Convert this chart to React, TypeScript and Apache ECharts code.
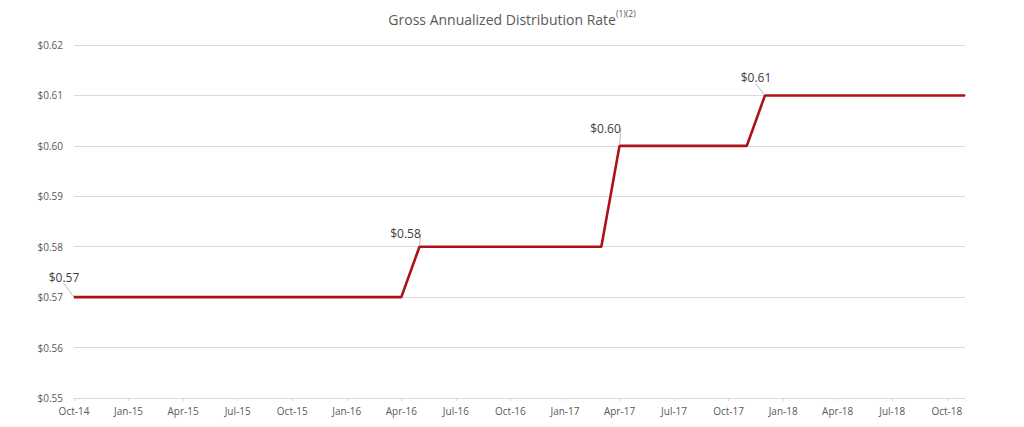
import React, { useEffect, useRef } from "react";
import * as echarts from "echarts";

const months = ["Jan","Feb","Mar","Apr","May","Jun","Jul","Aug","Sep","Oct","Nov","Dec"];
const categories: string[] = [];
for (let y = 14, m = 9; !(y === 18 && m === 11); ) {
  categories.push(`${months[m]}-${y}`);
  m++;
  if (m === 12) { m = 0; y++; }
}
// Oct-14 .. Nov-18 (50 months)
const rates: number[] = [
  0.57,0.57,0.57,0.57,0.57,0.57,0.57,0.57,0.57,0.57,0.57,0.57,0.57,0.57,0.57,0.57,0.57,0.57,0.57,
  0.58,0.58,0.58,0.58,0.58,0.58,0.58,0.58,0.58,0.58,0.58,
  0.60,0.60,0.60,0.60,0.60,0.60,0.60,0.60,
  0.61,0.61,0.61,0.61,0.61,0.61,0.61,0.61,0.61,0.61,0.61,0.61,
];
const labeledIdx = [0, 19, 30, 38];
const labelOffsets: Record<number, [number, number]> = {
  0: [-10, -8],
  19: [-14, -2],
  30: [-14, -6],
  38: [-9, -6],
};

const FONT = "'Open Sans', 'Liberation Sans', sans-serif";

export default function App() {
  const ref = useRef<HTMLDivElement>(null);
  useEffect(() => {
    if (!ref.current) return;
    const chart = echarts.init(ref.current, undefined, { renderer: "svg" });
    chart.setOption({
      animation: false,
      backgroundColor: "#ffffff",
      title: {
        text: "{m|Gross Annualized Distribution Rate}{s|(1)(2)}",
        left: "center",
        top: 4,
        textStyle: {
          fontWeight: "normal",
          rich: {
            m: { fontFamily: FONT, fontSize: 14, fontWeight: "normal", color: "#595959", verticalAlign: "bottom" },
            s: { fontFamily: FONT, fontSize: 8.5, fontWeight: "normal", color: "#595959", verticalAlign: "top", padding: [0, 0, 8, 0] },
          },
        },
      },
      grid: { left: 74, right: 59, top: 45, bottom: 29, containLabel: false },
      xAxis: {
        type: "category",
        data: categories,
        boundaryGap: false,
        axisLine: { lineStyle: { color: "#d9d9d9" } },
        axisTick: { show: true, interval: 2, length: 3, lineStyle: { color: "#d9d9d9" } },
        axisLabel: { interval: 2, color: "#595959", fontFamily: FONT, fontSize: 10, margin: 8 },
        splitLine: { show: false },
      },
      yAxis: {
        type: "value",
        min: 0.55,
        max: 0.62,
        interval: 0.01,
        axisLine: { show: false },
        axisTick: { show: false },
        axisLabel: {
          color: "#595959",
          fontFamily: FONT,
          fontSize: 10,
          margin: 11,
          formatter: (v: number) => "$" + v.toFixed(2),
        },
        splitLine: { lineStyle: { color: "#d9d9d9", width: 1 } },
      },
      series: [
        {
          type: "line",
          data: rates.map((v, i) =>
            labeledIdx.includes(i)
              ? { value: v, label: { show: true } }
              : v
          ),
          showSymbol: true,
          showAllSymbol: true,
          symbol: "circle",
          symbolSize: 1,
          lineStyle: { color: "#AD1118", width: 2.6 },
          itemStyle: { color: "#AD1118" },
          label: {
            show: false,
            position: "top",
            distance: 5,
            color: "#404040",
            fontFamily: FONT,
            fontSize: 12,
            formatter: (p: any) => "$" + Number(p.value).toFixed(2),
          },
          labelLine: { show: true, lineStyle: { color: "#a6a6a6", width: 0.8 } },
          labelLayout: (p: any) => {
            const o = labelOffsets[p.dataIndex] || [0, 0];
            return { dx: o[0], dy: o[1] };
          },
        },
      ],
    });
    return () => chart.dispose();
  }, []);
  return <div ref={ref} style={{ width: 1024, height: 427, position: "absolute", left: 0, top: 0 }} />;
}
